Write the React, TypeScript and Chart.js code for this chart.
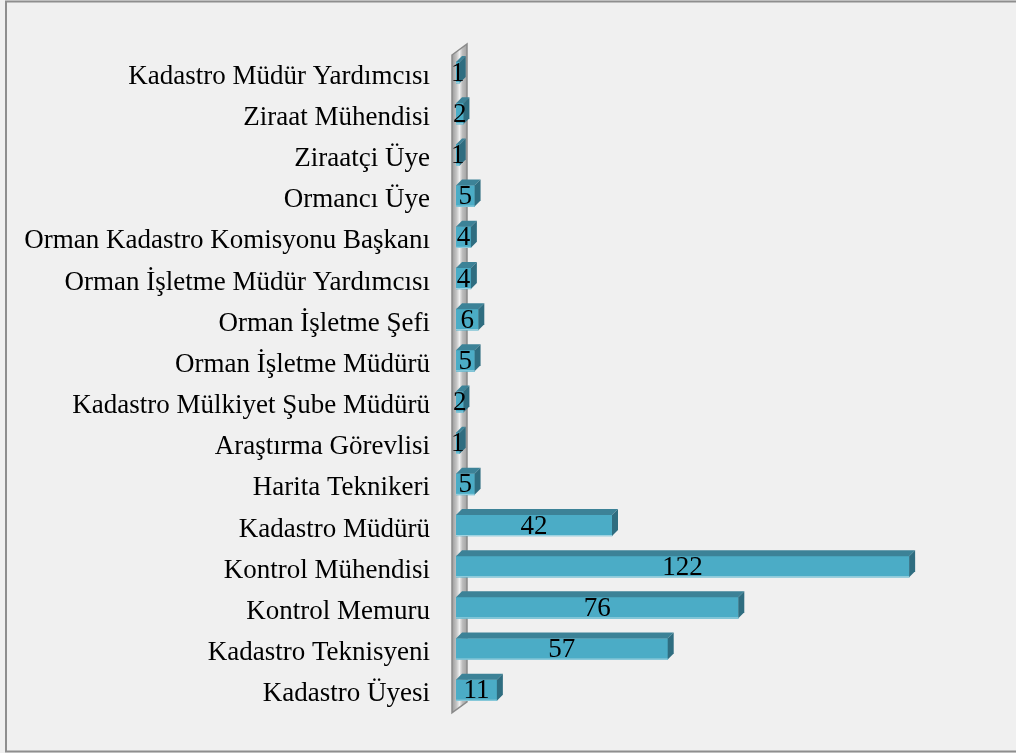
import React, { useEffect, useRef } from "react";
import { Chart, registerables } from "chart.js";

Chart.register(...registerables);

const categories: string[] = [
  "Kadastro Müdür Yardımcısı",
  "Ziraat Mühendisi",
  "Ziraatçi Üye",
  "Ormancı Üye",
  "Orman Kadastro Komisyonu Başkanı",
  "Orman İşletme Müdür Yardımcısı",
  "Orman İşletme Şefi",
  "Orman İşletme Müdürü",
  "Kadastro Mülkiyet Şube Müdürü",
  "Araştırma Görevlisi",
  "Harita Teknikeri",
  "Kadastro Müdürü",
  "Kontrol Mühendisi",
  "Kontrol Memuru",
  "Kadastro Teknisyeni",
  "Kadastro Üyesi",
];

const values: number[] = [1, 2, 1, 5, 4, 4, 6, 5, 2, 1, 5, 42, 122, 76, 57, 11];

const xMin = 0;
const xMax = 140;

const FONT = "'Liberation Serif', 'Times New Roman', serif";
const FRONT = "#4bacc6";
const TOP = "#3c8297";
const SIDE = "#2f6d80";
const DX = 6;
const DY = 6;

const decorPlugin = {
  id: "decor",
  beforeDraw(chart: any) {
    const { ctx, width, height, chartArea } = chart;
    ctx.save();
    ctx.fillStyle = "#f0f0f0";
    ctx.fillRect(0, 0, width, height);
    // outer border
    ctx.strokeStyle = "#8e8e8e";
    ctx.lineWidth = 2;
    ctx.strokeRect(6, 1.5, width + 20, height - 3);
    // wall
    const l = chartArea.left - 4;
    const r = chartArea.left + 11;
    const t = chartArea.top + 3;
    const b = chartArea.bottom + 2;
    const g = ctx.createLinearGradient(l, 0, r, 0);
    g.addColorStop(0, "#9a9a9a");
    g.addColorStop(0.3, "#c4c4c4");
    g.addColorStop(0.5, "#eeeeee");
    g.addColorStop(0.7, "#bdbdbd");
    g.addColorStop(1, "#a2a2a2");
    ctx.beginPath();
    ctx.moveTo(l, t);
    ctx.lineTo(r, t - 11);
    ctx.lineTo(r, b - 11);
    ctx.lineTo(l, b);
    ctx.closePath();
    ctx.fillStyle = g;
    ctx.fill();
    ctx.strokeStyle = "#8a8a8a";
    ctx.lineWidth = 1.5;
    ctx.stroke();
    ctx.restore();
  },
  afterDatasetsDraw(chart: any) {
    const { ctx } = chart;
    const meta = chart.getDatasetMeta(0);
    ctx.save();
    meta.data.forEach((bar: any, i: number) => {
      const x = bar.x;
      const base = bar.base;
      const top = bar.y - bar.height / 2;
      const bottom = bar.y + bar.height / 2;
      // top face
      ctx.beginPath();
      ctx.moveTo(base, top);
      ctx.lineTo(x, top);
      ctx.lineTo(x + DX, top - DY);
      ctx.lineTo(base + DX, top - DY);
      ctx.closePath();
      ctx.fillStyle = TOP;
      ctx.fill();
      // right face
      ctx.beginPath();
      ctx.moveTo(x, top);
      ctx.lineTo(x + DX, top - DY);
      ctx.lineTo(x + DX, bottom - DY);
      ctx.lineTo(x, bottom);
      ctx.closePath();
      ctx.fillStyle = SIDE;
      ctx.fill();
      // light bottom edge
      ctx.strokeStyle = "#9fd3e1";
      ctx.lineWidth = 1;
      ctx.beginPath();
      ctx.moveTo(base, bottom - 0.5);
      ctx.lineTo(x, bottom - 0.5);
      ctx.stroke();
      // label
      ctx.fillStyle = "#000";
      ctx.font = `27px ${FONT}`;
      ctx.textAlign = "center";
      ctx.textBaseline = "middle";
      ctx.fillText(String(values[i]), (base + x) / 2, bar.y + 1);
    });
    ctx.restore();
  },
};

export default function App() {
  const ref = useRef<HTMLCanvasElement | null>(null);
  useEffect(() => {
    document.body.style.margin = "0";
    const chart = new Chart(ref.current as HTMLCanvasElement, {
      type: "bar",
      data: {
        labels: categories,
        datasets: [
          {
            data: values,
            backgroundColor: FRONT,
            borderWidth: 0,
            barThickness: 21,
          },
        ],
      },
      options: {
        indexAxis: "y",
        animation: false,
        responsive: false,
        devicePixelRatio: 1,
        layout: { padding: { left: 0, right: 40, top: 52, bottom: 41 } },
        plugins: {
          legend: { display: false },
          tooltip: { enabled: false },
        },
        scales: {
          x: {
            display: false,
            min: xMin,
            max: xMax,
          },
          y: {
            grid: { display: false, drawTicks: false },
            border: { display: false },
            ticks: {
              color: "#000",
              padding: 26,
              labelOffset: 4,
              font: { family: FONT, size: 27 },
              autoSkip: false,
            },
            afterFit(scale: any) {
              scale.width = 456;
            },
          },
        },
      },
      plugins: [decorPlugin],
    } as any);
    return () => chart.destroy();
  }, []);
  return (
    <div style={{ position: "absolute", left: 0, top: 0, width: 1016, height: 753 }}>
      <canvas ref={ref} width={1016} height={753} style={{ width: 1016, height: 753, display: "block" }} />
    </div>
  );
}
